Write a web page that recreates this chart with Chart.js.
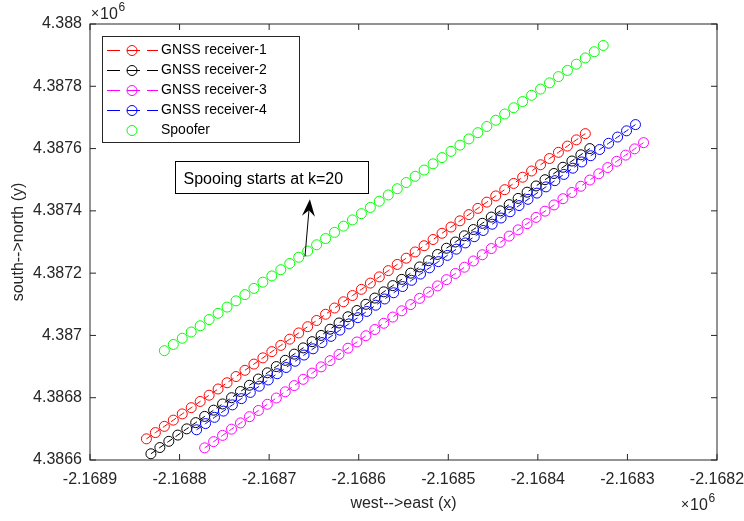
<!DOCTYPE html>
<html>
<head>
<meta charset="utf-8">
<script src="https://cdn.jsdelivr.net/npm/chart.js@4.4.1/dist/chart.umd.min.js"></script>
<style>
html, body { margin: 0; padding: 0; background: #fff; }
</style>
</head>
<body>
<canvas id="c" width="744" height="521"></canvas>
<script>
// series labels / colours
const seriesLabels = ['GNSS receiver-1', 'GNSS receiver-2', 'GNSS receiver-3', 'GNSS receiver-4', 'Spoofer'];
const seriesColors = ['#ff0000', '#000000', '#ff00ff', '#0000ff', '#00ff00'];

// positions (metres)
const rx1X = [-2168837, -2168827, -2168817, -2168807, -2168797, -2168787, -2168777, -2168767, -2168757, -2168747,
              -2168737, -2168727, -2168717, -2168707, -2168697, -2168687, -2168677, -2168667, -2168657, -2168647,
              -2168637, -2168627, -2168617, -2168607, -2168597, -2168587, -2168577, -2168567, -2168557, -2168547,
              -2168537, -2168527, -2168517, -2168507, -2168497, -2168487, -2168477, -2168467, -2168457, -2168447,
              -2168437, -2168427, -2168417, -2168407, -2168397, -2168387, -2168377, -2168367, -2168357, -2168347];
const rx1Y = [4386668, 4386688, 4386708, 4386728, 4386748, 4386768, 4386788, 4386808, 4386828, 4386848,
              4386868, 4386888, 4386908, 4386928, 4386948, 4386968, 4386988, 4387008, 4387028, 4387048,
              4387068, 4387088, 4387108, 4387128, 4387148, 4387168, 4387188, 4387208, 4387228, 4387248,
              4387268, 4387288, 4387308, 4387328, 4387348, 4387368, 4387388, 4387408, 4387428, 4387448,
              4387468, 4387488, 4387508, 4387528, 4387548, 4387568, 4387588, 4387608, 4387628, 4387648];

const rx2X = [-2168832, -2168822, -2168812, -2168802, -2168792, -2168782, -2168772, -2168762, -2168752, -2168742,
              -2168732, -2168722, -2168712, -2168702, -2168692, -2168682, -2168672, -2168662, -2168652, -2168642,
              -2168632, -2168622, -2168612, -2168602, -2168592, -2168582, -2168572, -2168562, -2168552, -2168542,
              -2168532, -2168522, -2168512, -2168502, -2168492, -2168482, -2168472, -2168462, -2168452, -2168442,
              -2168432, -2168422, -2168412, -2168402, -2168392, -2168382, -2168372, -2168362, -2168352, -2168342];
const rx2Y = [4386620, 4386640, 4386660, 4386680, 4386700, 4386720, 4386740, 4386760, 4386780, 4386800,
              4386820, 4386840, 4386860, 4386880, 4386900, 4386920, 4386940, 4386960, 4386980, 4387000,
              4387020, 4387040, 4387060, 4387080, 4387100, 4387120, 4387140, 4387160, 4387180, 4387200,
              4387220, 4387240, 4387260, 4387280, 4387300, 4387320, 4387340, 4387360, 4387380, 4387400,
              4387420, 4387440, 4387460, 4387480, 4387500, 4387520, 4387540, 4387560, 4387580, 4387600];

const rx3X = [-2168772, -2168762, -2168752, -2168742, -2168732, -2168722, -2168712, -2168702, -2168692, -2168682,
              -2168672, -2168662, -2168652, -2168642, -2168632, -2168622, -2168612, -2168602, -2168592, -2168582,
              -2168572, -2168562, -2168552, -2168542, -2168532, -2168522, -2168512, -2168502, -2168492, -2168482,
              -2168472, -2168462, -2168452, -2168442, -2168432, -2168422, -2168412, -2168402, -2168392, -2168382,
              -2168372, -2168362, -2168352, -2168342, -2168332, -2168322, -2168312, -2168302, -2168292, -2168282];
const rx3Y = [4386639, 4386659, 4386679, 4386699, 4386719, 4386739, 4386759, 4386779, 4386799, 4386819,
              4386839, 4386859, 4386879, 4386899, 4386919, 4386939, 4386959, 4386979, 4386999, 4387019,
              4387039, 4387059, 4387079, 4387099, 4387119, 4387139, 4387159, 4387179, 4387199, 4387219,
              4387239, 4387259, 4387279, 4387299, 4387319, 4387339, 4387359, 4387379, 4387399, 4387419,
              4387439, 4387459, 4387479, 4387499, 4387519, 4387539, 4387559, 4387579, 4387599, 4387619];

const rx4X = [-2168781, -2168771, -2168761, -2168751, -2168741, -2168731, -2168721, -2168711, -2168701, -2168691,
              -2168681, -2168671, -2168661, -2168651, -2168641, -2168631, -2168621, -2168611, -2168601, -2168591,
              -2168581, -2168571, -2168561, -2168551, -2168541, -2168531, -2168521, -2168511, -2168501, -2168491,
              -2168481, -2168471, -2168461, -2168451, -2168441, -2168431, -2168421, -2168411, -2168401, -2168391,
              -2168381, -2168371, -2168361, -2168351, -2168341, -2168331, -2168321, -2168311, -2168301, -2168291];
const rx4Y = [4386697, 4386717, 4386737, 4386757, 4386777, 4386797, 4386817, 4386837, 4386857, 4386877,
              4386897, 4386917, 4386937, 4386957, 4386977, 4386997, 4387017, 4387037, 4387057, 4387077,
              4387097, 4387117, 4387137, 4387157, 4387177, 4387197, 4387217, 4387237, 4387257, 4387277,
              4387297, 4387317, 4387337, 4387357, 4387377, 4387397, 4387417, 4387437, 4387457, 4387477,
              4387497, 4387517, 4387537, 4387557, 4387577, 4387597, 4387617, 4387637, 4387657, 4387677];

const spoofX = [-2168817, -2168807, -2168797, -2168787, -2168777, -2168767, -2168757, -2168747, -2168737, -2168727,
                -2168717, -2168707, -2168697, -2168687, -2168677, -2168667, -2168657, -2168647, -2168637, -2168627,
                -2168617, -2168607, -2168597, -2168587, -2168577, -2168567, -2168557, -2168547, -2168537, -2168527,
                -2168517, -2168507, -2168497, -2168487, -2168477, -2168467, -2168457, -2168447, -2168437, -2168427,
                -2168417, -2168407, -2168397, -2168387, -2168377, -2168367, -2168357, -2168347, -2168337, -2168327];
const spoofY = [4386951, 4386971, 4386991, 4387011, 4387031, 4387051, 4387071, 4387091, 4387111, 4387131,
                4387151, 4387171, 4387191, 4387211, 4387231, 4387251, 4387271, 4387291, 4387311, 4387331,
                4387351, 4387371, 4387391, 4387411, 4387431, 4387451, 4387471, 4387491, 4387511, 4387531,
                4387551, 4387571, 4387591, 4387611, 4387631, 4387651, 4387671, 4387691, 4387711, 4387731,
                4387751, 4387771, 4387791, 4387811, 4387831, 4387851, 4387871, 4387891, 4387911, 4387931];

// axis ticks
const xTickValues = [-2168900, -2168800, -2168700, -2168600, -2168500, -2168400, -2168300, -2168200];
const xTickLabels = ['-2.1689', '-2.1688', '-2.1687', '-2.1686', '-2.1685', '-2.1684', '-2.1683', '-2.1682'];
const yTickValues = [4386600, 4386800, 4387000, 4387200, 4387400, 4387600, 4387800, 4388000];
const yTickLabels = ['4.3866', '4.3868', '4.387', '4.3872', '4.3874', '4.3876', '4.3878', '4.388'];

// text box + arrow (data coords)
const noteText = 'Spooing starts at k=20';
const noteBox = { x0: -2168805, x1: -2168590, y0: 4387561, y1: 4387456 };
const noteArrow = { x0: -2168660, y0: 4387253, x1: -2168654.5, y1: 4387437 };

const AXIS = '#262626';
const FONT = '"Liberation Sans", Arial, Helvetica, sans-serif';
Chart.defaults.font.family = FONT;
Chart.defaults.color = AXIS;

const allX = [rx1X, rx2X, rx3X, rx4X, spoofX];
const allY = [rx1Y, rx2Y, rx3Y, rx4Y, spoofY];

function pts(xs, ys) {
    return xs.map((x, i) => ({ x: x, y: ys[i] }));
}

const datasets = seriesLabels.map((label, i) => {
    const isSpoofer = i === 4;
    return {
        label: label,
        data: pts(allX[i], allY[i]),
        showLine: !isSpoofer,
        borderColor: seriesColors[i],
        borderWidth: 1,
        borderDash: [6, 4],
        backgroundColor: 'rgba(0,0,0,0)',
        pointRadius: 5,
        pointHoverRadius: 5,
        pointBorderWidth: 1,
        pointBorderColor: seriesColors[i],
        pointBackgroundColor: 'rgba(0,0,0,0)',
        fill: false,
        tension: 0,
        order: -i   // later series on top, like MATLAB
    };
});

const TICK = 6;

const framePlugin = {
    id: 'frame',
    afterDraw(chart) {
        const { ctx, chartArea: a, scales: { x, y } } = chart;
        ctx.save();
        ctx.strokeStyle = AXIS;
        ctx.lineWidth = 1;
        ctx.strokeRect(a.left, a.top, a.right - a.left, a.bottom - a.top);
        ctx.beginPath();
        xTickValues.forEach(v => {
            const px = x.getPixelForValue(v);
            ctx.moveTo(px, a.bottom); ctx.lineTo(px, a.bottom - TICK);
            ctx.moveTo(px, a.top); ctx.lineTo(px, a.top + TICK);
        });
        yTickValues.forEach(v => {
            const py = y.getPixelForValue(v);
            ctx.moveTo(a.left, py); ctx.lineTo(a.left + TICK, py);
            ctx.moveTo(a.right, py); ctx.lineTo(a.right - TICK, py);
        });
        ctx.stroke();

        // x10^6 exponent labels
        ctx.fillStyle = AXIS;
        ctx.textBaseline = 'alphabetic';
        ctx.textAlign = 'left';
        const drawExp = (left, base) => {
            ctx.font = '14px ' + FONT;
            ctx.fillText('\u00d7', left, base - 1);
            ctx.font = '16px ' + FONT;
            ctx.fillText('10', left + 9, base);
            ctx.font = '12px ' + FONT;
            ctx.fillText('6', left + 27.5, base - 8);
        };
        drawExp(a.left + 1, a.top - 5);
        drawExp(a.right - 36, a.bottom + 50);
        ctx.restore();
    }
};

const legendPlugin = {
    id: 'boxLegend',
    afterDraw(chart) {
        const { ctx, chartArea: a } = chart;
        const left = a.left + 12, top = a.top + 12;
        const w = 197, rowH = 20;
        ctx.save();
        ctx.fillStyle = '#fff';
        ctx.fillRect(left, top, w, rowH * seriesLabels.length + 6);
        ctx.strokeStyle = AXIS;
        ctx.lineWidth = 1;
        ctx.strokeRect(left + 0.5, top + 0.5, w, rowH * seriesLabels.length + 6);
        seriesLabels.forEach((label, i) => {
            const cy = top + 14 + i * rowH + 0.5;
            const col = seriesColors[i];
            ctx.strokeStyle = col;
            ctx.lineWidth = 1;
            if (i < 4) {
                ctx.setLineDash([13, 7]);
                ctx.beginPath();
                ctx.moveTo(left + 5, cy);
                ctx.lineTo(left + 56, cy);
                ctx.stroke();
                ctx.setLineDash([]);
            }
            ctx.beginPath();
            ctx.arc(left + 30, cy, 5, 0, Math.PI * 2);
            ctx.stroke();
            ctx.fillStyle = '#000';
            ctx.font = '14px ' + FONT;
            ctx.textAlign = 'left';
            ctx.textBaseline = 'middle';
            ctx.fillText(label, left + 59, cy);
        });
        ctx.restore();
    }
};

const notePlugin = {
    id: 'note',
    afterDraw(chart) {
        const { ctx, scales: { x, y } } = chart;
        ctx.save();
        const bx0 = Math.round(x.getPixelForValue(noteBox.x0)) + 0.5;
        const bx1 = Math.round(x.getPixelForValue(noteBox.x1)) + 0.5;
        const by0 = Math.round(y.getPixelForValue(noteBox.y0)) + 0.5;
        const by1 = Math.round(y.getPixelForValue(noteBox.y1)) + 0.5;
        ctx.fillStyle = '#fff';
        ctx.fillRect(bx0, by0, bx1 - bx0, by1 - by0);
        ctx.strokeStyle = '#000';
        ctx.lineWidth = 1;
        ctx.strokeRect(bx0, by0, bx1 - bx0, by1 - by0);
        ctx.fillStyle = '#000';
        ctx.font = '16px ' + FONT;
        ctx.textAlign = 'left';
        ctx.textBaseline = 'alphabetic';
        ctx.fillText(noteText, bx0 + 8, by1 - 10);

        // arrow
        const ax0 = x.getPixelForValue(noteArrow.x0), ay0 = y.getPixelForValue(noteArrow.y0);
        const ax1 = x.getPixelForValue(noteArrow.x1), ay1 = y.getPixelForValue(noteArrow.y1);
        const ang = Math.atan2(ay1 - ay0, ax1 - ax0);
        const hl = 17, hw = 6.5;
        const ux = Math.cos(ang), uy = Math.sin(ang);
        const nx = -uy, ny = ux;
        const bx = ax1 - ux * hl, byy = ay1 - uy * hl;
        ctx.beginPath();
        ctx.moveTo(ax0, ay0);
        ctx.lineTo(ax1 - ux * 8, ay1 - uy * 8);
        ctx.strokeStyle = '#000';
        ctx.stroke();
        ctx.beginPath();
        ctx.moveTo(ax1, ay1);
        ctx.lineTo(bx + nx * hw, byy + ny * hw);
        ctx.lineTo(ax1 - ux * hl * 0.65, ay1 - uy * hl * 0.65);
        ctx.lineTo(bx - nx * hw, byy - ny * hw);
        ctx.closePath();
        ctx.fill();
        ctx.restore();
    }
};

new Chart(document.getElementById('c'), {
    type: 'scatter',
    data: { datasets: datasets },
    options: {
        responsive: false,
        animation: false,
        devicePixelRatio: 1,
        layout: { padding: { top: 24, right: 27, bottom: 0, left: 0 } },
        plugins: {
            legend: { display: false },
            tooltip: { enabled: false }
        },
        scales: {
            x: {
                type: 'linear',
                min: -2168900,
                max: -2168200,
                grid: { display: false, drawTicks: false },
                border: { display: false },
                afterBuildTicks: s => { s.ticks = xTickValues.map(v => ({ value: v })); },
                afterFit: s => { s.height = 61; s.paddingLeft = 0; s.paddingRight = 0; },
                ticks: {
                    padding: 10,
                    autoSkip: false,
                    maxRotation: 0,
                    color: AXIS,
                    font: { size: 16 },
                    callback: (v, i) => xTickLabels[i]
                },
                title: {
                    display: true,
                    text: 'west-->east (x)',
                    color: AXIS,
                    font: { size: 16 },
                    padding: { top: 0, bottom: 8 }
                }
            },
            y: {
                type: 'linear',
                min: 4386600,
                max: 4388000,
                grid: { display: false, drawTicks: false },
                border: { display: false },
                afterBuildTicks: s => { s.ticks = yTickValues.map(v => ({ value: v })); },
                afterFit: s => { s.width = 90; s.paddingTop = 0; s.paddingBottom = 0; },
                ticks: {
                    padding: 8,
                    autoSkip: false,
                    color: AXIS,
                    font: { size: 16 },
                    callback: (v, i) => yTickLabels[i]
                },
                title: {
                    display: true,
                    text: 'south-->north (y)',
                    color: AXIS,
                    font: { size: 16 },
                    padding: { top: 9, bottom: 0 }
                }
            }
        }
    },
    plugins: [framePlugin, legendPlugin, notePlugin]
});
</script>
</body>
</html>
